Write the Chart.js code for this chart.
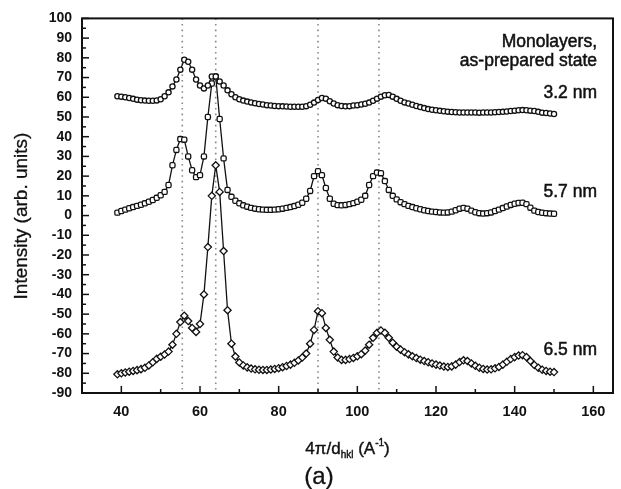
<!DOCTYPE html>
<html>
<head>
<meta charset="utf-8">
<script src="https://cdn.jsdelivr.net/npm/chart.js@4"></script>
<style>
  html, body { margin: 0; padding: 0; background: #fff; }
</style>
</head>
<body>
<canvas id="myChart" width="621" height="489"></canvas>
<script>
// x positions (4pi/d_hkl)
const xValues = [39,40,41,42,43,44,45,46,47,48,49,50,51,52,53,54,55,56,57,58,59,60,61,62,63,64,65,66,67,68,69,
  70,71,72,73,74,75,76,77,78,79,80,81,82,83,84,85,86,87,88,89,90,91,92,93,94,95,96,97,98,99,100,
  101,102,103,104,105,106,107,108,109,110,111,112,113,114,115,116,117,118,119,120,121,122,123,124,125,
  126,127,128,129,130,131,132,133,134,135,136,137,138,139,140,141,142,143,144,145,146,147,148,149,150];

// 3.2 nm
const y32 = [60.5,60.3,60,59.6,59.2,58.8,58.5,58.3,58.2,58.2,58.4,59,60.5,62.5,65.5,69,74,79,78,74,69,66,64.5,66,70.5,
  70.5,68,66,63.5,61.5,60,59,58.3,57.8,57.4,57,56.6,56.3,56,55.8,55.6,55.5,55.4,55.3,55.2,55.2,55.2,55.2,55.5,56.2,
  57.3,58.6,59.6,59.3,58,56.8,56,55.6,55.4,55.5,55.8,56,56.3,56.7,57.3,58.2,59.3,60.3,61,61.2,60.3,59.2,58.2,57.4,
  56.8,56.2,55.6,55,54.5,54,53.7,53.4,53.1,52.9,52.7,52.5,52.4,52.3,52.3,52.3,52.3,52.3,52.2,52.3,52.3,52.3,52.4,
  52.5,52.6,52.8,53,53.2,53.4,53.5,53.4,53.2,53,52.6,52.2,52,51.8,51.5];

// 5.7 nm
const y57 = [1.5,2.3,3,3.7,4.3,4.9,5.5,6.2,7,7.9,9,10.3,12,15.5,25.5,33.3,38.8,38.5,30,23,19.5,20.5,30,50,67,70.5,
  49,29,13,9.5,7.5,6.2,5.2,4.5,3.9,3.5,3.2,3,2.9,2.9,3,3.2,3.5,3.9,4.3,4.8,5.5,6.5,8.5,12.5,20,22.5,20.5,14,8.5,
  6,5.3,5.2,5.4,5.8,6.3,7,8,10,15.5,20,21.8,21.5,17.5,13,10,8.2,6.8,5.8,4.9,4.3,3.7,3.2,2.7,2.3,2,1.8,1.6,1.5,1.6,
  2,2.7,3.5,3.9,3.5,2.5,1.7,1.2,1,1.2,1.6,2.3,3,3.8,4.6,5.4,6,6.4,6.5,5.8,4,2.5,1.8,1.4,1.2,1,0.9];

// 6.5 nm
const y65 = [-80.5,-80,-79.6,-79.2,-78.8,-78.4,-77.9,-77.2,-76,-74.4,-72.7,-71.6,-70.5,-69,-65.5,-60,-54,-50.8,-53.5,
  -57,-59,-55,-40,-16,10,25.5,12,-18,-48,-65,-71.5,-74.5,-76,-77,-77.6,-78,-78.2,-78.3,-78.3,-78.1,-77.8,-77.4,
  -76.9,-76.3,-75.6,-74.7,-73.5,-72,-70,-65,-58,-48.5,-49.5,-57,-63,-69,-72,-73.2,-73.2,-72.8,-72.2,-71.4,-70.3,
  -68.5,-65.5,-62,-59.5,-58.3,-59.5,-62,-64.5,-66.5,-68,-69.3,-70.4,-71.4,-72.3,-73.1,-73.8,-74.4,-75,-75.6,
  -76.1,-76.6,-76.8,-76.5,-75.6,-74.3,-73.4,-73.8,-75,-76.2,-77.2,-77.8,-78.1,-78,-77.5,-76.8,-75.6,-74.2,-72.8,
  -71.8,-71,-70.8,-71.8,-73.8,-75.8,-77.2,-78.2,-78.8,-79.2,-79.4];

const seriesNames = ["3.2 nm", "5.7 nm", "6.5 nm"];
const xTicks = [40, 60, 80, 100, 120, 140, 160];
const refLines = [55.5, 64, 90, 105.5];

const FONT = "'Liberation Sans', Arial, sans-serif";

function toPoints(ys) {
  return xValues.map((x, i) => ({ x: x, y: ys[i] }));
}

// text a little heavier than plain regular, like the scan
function heavyText(ctx, txt, x, y) {
  ctx.fillText(txt, x, y);
  ctx.strokeText(txt, x, y);
}

// dotted guide lines, frame, inside ticks and all the text labels
const extras = {
  id: "extras",
  beforeDatasetsDraw(chart) {
    const ctx = chart.ctx;
    const area = chart.chartArea;
    const xs = chart.scales.x;
    ctx.save();
    ctx.strokeStyle = "#8a8a8a";
    ctx.lineWidth = 1.6;
    ctx.setLineDash([1.6, 4]);
    refLines.forEach(v => {
      const px = xs.getPixelForValue(v);
      ctx.beginPath();
      ctx.moveTo(px, area.top);
      ctx.lineTo(px, area.bottom);
      ctx.stroke();
    });
    ctx.restore();
  },
  afterDraw(chart) {
    const ctx = chart.ctx;
    const area = chart.chartArea;
    const xs = chart.scales.x;
    const ys = chart.scales.y;
    ctx.save();
    ctx.strokeStyle = "#111";
    ctx.lineWidth = 2;
    ctx.strokeRect(area.left, area.top, area.right - area.left, area.bottom - area.top);

    // y ticks (inside), major every 10, minor every 5
    ctx.lineWidth = 1.5;
    for (let v = -90; v <= 100; v += 5) {
      const py = ys.getPixelForValue(v);
      const len = v % 10 === 0 ? 7 : 4;
      ctx.beginPath();
      ctx.moveTo(area.left, py);
      ctx.lineTo(area.left + len, py);
      ctx.stroke();
    }
    // x ticks (inside), major every 20, minor every 10
    for (let v = 40; v <= 160; v += 10) {
      const px = xs.getPixelForValue(v);
      const len = v % 20 === 0 ? 7 : 4;
      ctx.beginPath();
      ctx.moveTo(px, area.bottom);
      ctx.lineTo(px, area.bottom - len);
      ctx.stroke();
    }

    ctx.fillStyle = "#111";
    ctx.lineWidth = 0.5;
    // annotations
    ctx.font = "17.5px " + FONT;
    ctx.textAlign = "right";
    ctx.textBaseline = "alphabetic";
    heavyText(ctx, "Monolayers,", 597, 47);
    heavyText(ctx, "as-prepared state", 597, 66);
    heavyText(ctx, seriesNames[0], 597, 98);
    heavyText(ctx, seriesNames[1], 597, 197);
    heavyText(ctx, seriesNames[2], 597, 355);

    // y title
    ctx.save();
    ctx.translate(22, 216);
    ctx.rotate(-Math.PI / 2);
    ctx.textAlign = "center";
    ctx.textBaseline = "middle";
    ctx.font = "19px " + FONT;
    ctx.lineWidth = 0.3;
    heavyText(ctx, "Intensity (arb. units)", 0, 0);
    ctx.restore();

    // x title with sub/superscript
    const parts = [
      { t: "4\u03c0/d", f: "17px " + FONT, dy: 0 },
      { t: "hkl", f: "10px " + FONT, dy: 4 },
      { t: " (A", f: "17px " + FONT, dy: 0 },
      { t: "-1", f: "10px " + FONT, dy: -8 },
      { t: ")", f: "17px " + FONT, dy: 0 }
    ];
    let total = 0;
    parts.forEach(p => { ctx.font = p.f; p.w = ctx.measureText(p.t).width; total += p.w; });
    let cx = (area.left + area.right) / 2 - total / 2;
    ctx.textAlign = "left";
    ctx.lineWidth = 0.4;
    parts.forEach(p => {
      ctx.font = p.f;
      heavyText(ctx, p.t, cx, 454 + p.dy);
      cx += p.w;
    });

    // panel label
    ctx.textAlign = "center";
    ctx.font = "24px " + FONT;
    ctx.lineWidth = 0.3;
    heavyText(ctx, "(a)", 319, 484);
    ctx.restore();
  }
};

function makeSet(label, ys, style, radius) {
  return {
    label: label,
    data: toPoints(ys),
    borderColor: "#111",
    borderWidth: 1.3,
    pointStyle: style,
    pointRadius: radius,
    pointBorderWidth: 1.3,
    pointBackgroundColor: "#fff",
    pointBorderColor: "#111",
    tension: 0,
    fill: false
  };
}

const myChart = document.getElementById("myChart");

new Chart(myChart, {
  type: "line",
  data: {
    datasets: [
      makeSet(seriesNames[0], y32, "circle", 2.6),
      makeSet(seriesNames[1], y57, "rectRounded", 3),
      makeSet(seriesNames[2], y65, "rectRot", 3.6)
    ]
  },
  options: {
    responsive: false,
    devicePixelRatio: 1,
    animation: false,
    layout: { padding: { left: 0, top: 16, right: 8, bottom: 0 } },
    plugins: {
      legend: { display: false },
      tooltip: { enabled: false }
    },
    scales: {
      x: {
        type: "linear",
        min: 30,
        max: 165,
        afterBuildTicks: scale => { scale.ticks = xTicks.map(v => ({ value: v })); },
        afterFit: scale => { scale.height = 96; },
        grid: { display: false, drawTicks: false },
        border: { display: false },
        ticks: {
          padding: 10,
          autoSkip: false,
          color: "#111",
          font: { family: FONT, size: 14.5, weight: "bold" },
          maxRotation: 0
        }
      },
      y: {
        min: -90,
        max: 100,
        afterFit: scale => { scale.width = 82; },
        grid: { display: false, drawTicks: false },
        border: { display: false },
        ticks: {
          stepSize: 10,
          padding: 10,
          autoSkip: false,
          color: "#111",
          font: { family: FONT, size: 14, weight: "bold" }
        }
      }
    }
  },
  plugins: [extras]
});
</script>
</body>
</html>
